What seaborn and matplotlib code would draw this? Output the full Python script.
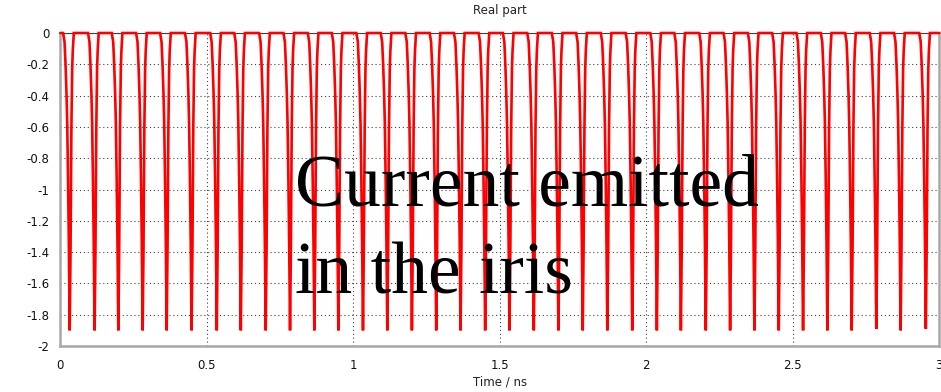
import numpy as np
import pandas as pd
import matplotlib
matplotlib.use("Agg")
import matplotlib.pyplot as plt
import seaborn as sns

# Pulse centre times (ns) and pulse minimum values of the real part
pulse_times = [0.032, 0.117, 0.198, 0.281, 0.363, 0.448, 0.534, 0.616, 0.701,
               0.784, 0.867, 0.949, 1.033, 1.116, 1.200, 1.283, 1.366, 1.450,
               1.533, 1.616, 1.700, 1.783, 1.867, 1.952, 2.036, 2.118, 2.203,
               2.286, 2.369, 2.452, 2.535, 2.618, 2.701, 2.785, 2.868, 2.954]
pulse_depth = [-1.90, -1.90, -1.90, -1.90, -1.90, -1.90, -1.90, -1.90, -1.90,
               -1.90, -1.90, -1.90, -1.90, -1.90, -1.90, -1.90, -1.90, -1.90,
               -1.90, -1.90, -1.90, -1.90, -1.90, -1.90, -1.90, -1.90, -1.90,
               -1.90, -1.90, -1.90, -1.90, -1.90, -1.90, -1.89, -1.90, -1.89]

# Shape of one pulse: time offset from centre (ns) and fraction of the depth
shape_offset = [-0.0225, -0.0175, -0.0140, -0.0110, -0.0085, -0.0055, -0.0030,
                0.0, 0.0030, 0.0058, 0.0085, 0.0105, 0.0140]
shape_frac = [0.0, 0.03, 0.11, 0.20, 0.30, 0.50, 0.70,
              1.0, 0.72, 0.32, 0.12, 0.06, 0.0]

t_start, t_end = 0.0, 3.0

times = [t_start]
values = [0.0]
for tc, d in zip(pulse_times, pulse_depth):
    for off, fr in zip(shape_offset, shape_frac):
        times.append(tc + off)
        values.append(d * fr)
times.append(t_end)
values.append(0.0)
df = pd.DataFrame({"time": times, "real": values})

sns.set_style("white")
plt.rcParams["font.family"] = ["DejaVu Sans"]

fig = plt.figure(figsize=(9.41, 3.92), dpi=100)
ax = fig.add_axes([0.0641, 0.1173, 0.9341, 0.7985])

sns.lineplot(data=df, x="time", y="real", ax=ax, color="#ff0000",
             linewidth=1.9, sort=False, estimator=None, zorder=3)
for ln in ax.lines:
    ln.set_clip_on(False)
    ln.set_solid_joinstyle("miter")

ax.set_xlim(0, 3)
ax.set_ylim(-2, 0)
ax.set_xticks([0, 0.5, 1, 1.5, 2, 2.5, 3])
ax.set_xticklabels(["0", "0.5", "1", "1.5", "2", "2.5", "3"])
yt = [0, -0.2, -0.4, -0.6, -0.8, -1, -1.2, -1.4, -1.6, -1.8, -2]
ax.set_yticks(yt)
ax.set_yticklabels(["0", "-0.2", "-0.4", "-0.6", "-0.8", "-1", "-1.2",
                    "-1.4", "-1.6", "-1.8", "-2"])

ax.grid(True, color="#404040", linestyle=(0, (1, 2.5)), linewidth=0.8, zorder=1)
ax.set_axisbelow(True)

for side in ["left", "bottom", "right"]:
    ax.spines[side].set_color("#a8a8a8")
    ax.spines[side].set_linewidth(1.8)
ax.spines["top"].set_color("#404040")
ax.spines["top"].set_linewidth(0.8)

ax.tick_params(axis="both", direction="out", length=5, width=0.8,
               color="#404040", labelsize=8.5, labelcolor="#111111", pad=3)
ax.tick_params(axis="x", pad=4)

ax.set_title("Real part", fontsize=8.5, color="#222222", pad=14)
ax.set_xlabel("Time / ns", fontsize=8.5, color="#222222", labelpad=3)
ax.set_ylabel("")

serif = ["Liberation Serif", "DejaVu Serif"]
fig.text(0.3135, 1 - 205 / 392, "Current emitted", family=serif, fontsize=53,
         color="black", ha="left", va="baseline", zorder=2)
fig.text(0.3135, 1 - 294 / 392, "in the iris", family=serif, fontsize=53,
         color="black", ha="left", va="baseline", zorder=2)

fig.savefig("out.png", dpi=100)
